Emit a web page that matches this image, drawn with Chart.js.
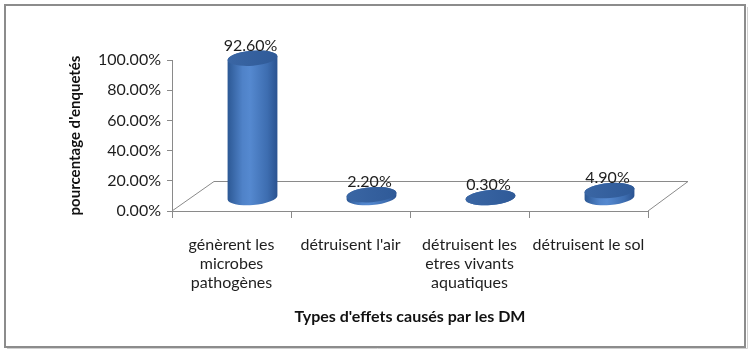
<!DOCTYPE html>
<html>
<head>
<meta charset="utf-8">
<script src="https://cdn.jsdelivr.net/npm/chart.js@4"></script>
<style>
  html, body { margin: 0; padding: 0; background: #fff; }
  #wrap { width: 750px; height: 353px; position: relative; }
</style>
</head>
<body>
<div id="wrap"><canvas id="chart"></canvas></div>
<script>
const categories = [
  ["génèrent les", "microbes", "pathogènes"],
  ["détruisent l'air"],
  ["détruisent les", "etres vivants", "aquatiques"],
  ["détruisent le sol"],
];
const values = [92.6, 2.2, 0.3, 4.9];
const yTicks = [0, 20, 40, 60, 80, 100];

const FONT = "Lato, 'Open Sans', sans-serif";
const DEPTH_X = 42; // floor depth
const DEPTH_Y = 30;

// frame + 3d floor
const backdrop = {
  id: "backdrop",
  beforeDraw(chart) {
    const { ctx, chartArea: a } = chart;
    ctx.save();
    ctx.strokeStyle = "#8c8c8c";
    ctx.lineWidth = 2;
    ctx.strokeRect(5, 5, 740, 342);
    ctx.strokeStyle = "#d0d0d0";
    ctx.lineWidth = 1;
    ctx.beginPath();
    ctx.moveTo(7, 348.5);
    ctx.lineTo(747.5, 348.5);
    ctx.lineTo(747.5, 7);
    ctx.stroke();

    ctx.strokeStyle = "#8a8a8a";
    ctx.lineWidth = 1;
    ctx.beginPath();
    ctx.moveTo(a.left, a.bottom);
    ctx.lineTo(a.left + DEPTH_X, a.bottom - DEPTH_Y + 0.5);
    ctx.lineTo(a.right + DEPTH_X - 2, a.bottom - DEPTH_Y + 0.5);
    ctx.lineTo(a.right, a.bottom);
    ctx.stroke();
    ctx.restore();
  },
};

// cylinders drawn from the bar elements
const cylinders = {
  id: "cylinders",
  afterDatasetsDraw(chart) {
    const { ctx } = chart;
    const meta = chart.getDatasetMeta(0);
    meta.data.forEach((bar, i) => {
      const cx = bar.x + 21;
      const baseY = bar.base - 13;
      const topY = bar.y - 13;
      const rx = bar.width / 2;
      const ry = 7.5;
      const rot = -0.08;

      ctx.save();
      const g = ctx.createLinearGradient(cx - rx, 0, cx + rx, 0);
      g.addColorStop(0, "#2c5894");
      g.addColorStop(0.3, "#4f82c8");
      g.addColorStop(0.45, "#5589d0");
      g.addColorStop(0.8, "#3d6db0");
      g.addColorStop(1, "#2a5290");
      ctx.beginPath();
      ctx.ellipse(cx, baseY, rx, ry, rot, 0, Math.PI);
      ctx.ellipse(cx, topY, rx, ry, rot, Math.PI, Math.PI * 2);
      ctx.closePath();
      ctx.fillStyle = g;
      ctx.fill();

      const t = ctx.createLinearGradient(cx - rx, topY, cx + rx, topY);
      t.addColorStop(0, "#3a66a4");
      t.addColorStop(1, "#2f5a98");
      ctx.beginPath();
      ctx.ellipse(cx, topY, rx, ry, rot, 0, Math.PI * 2);
      ctx.fillStyle = t;
      ctx.fill();

      ctx.fillStyle = "#1e1e1e";
      ctx.font = "16px " + FONT;
      ctx.textAlign = "center";
      ctx.textBaseline = "bottom";
      ctx.fillText(values[i].toFixed(2) + "%", cx - 2, topY - ry + 3);
      ctx.restore();
    });
  },
};

new Chart(document.getElementById("chart"), {
  type: "bar",
  data: {
    labels: categories,
    datasets: [
      {
        data: values,
        backgroundColor: "rgba(0,0,0,0)",
        borderWidth: 0,
        categoryPercentage: 1,
        barPercentage: 0.42,
      },
    ],
  },
  options: {
    responsive: true,
    maintainAspectRatio: false,
    animation: false,
    layout: { padding: { left: 66, right: 102, top: 60, bottom: 25 } },
    plugins: {
      legend: { display: false },
      tooltip: { enabled: false },
    },
    scales: {
      y: {
        min: 0,
        max: 100,
        afterFit(scale) { scale.width = 106; },
        afterBuildTicks(scale) { scale.ticks = yTicks.map((v) => ({ value: v })); },
        ticks: {
          padding: 6,
          color: "#1e1e1e",
          font: { family: FONT, size: 16 },
          callback: (v) => v.toFixed(2) + "%",
        },
        grid: { drawOnChartArea: false, tickLength: 5, color: "#8a8a8a" },
        border: { color: "#8a8a8a" },
        title: {
          display: true,
          text: "pourcentage d'enquetés",
          color: "#111",
          padding: 0,
          font: { family: FONT, size: 15, weight: "bold" },
        },
      },
      x: {
        afterFit(scale) { scale.height = 117; },
        ticks: {
          padding: 17,
          color: "#1e1e1e",
          maxRotation: 0,
          font: { family: FONT, size: 16, lineHeight: 1.2 },
        },
        grid: { drawOnChartArea: false, tickLength: 7, color: "#8a8a8a", offset: true },
        border: { color: "#8a8a8a" },
        title: {
          display: true,
          text: "Types d'effets causés par les DM",
          color: "#111",
          padding: { top: 0, bottom: 2 },
          font: { family: FONT, size: 16, weight: "bold" },
        },
      },
    },
  },
  plugins: [backdrop, cylinders],
});
</script>
</body>
</html>
